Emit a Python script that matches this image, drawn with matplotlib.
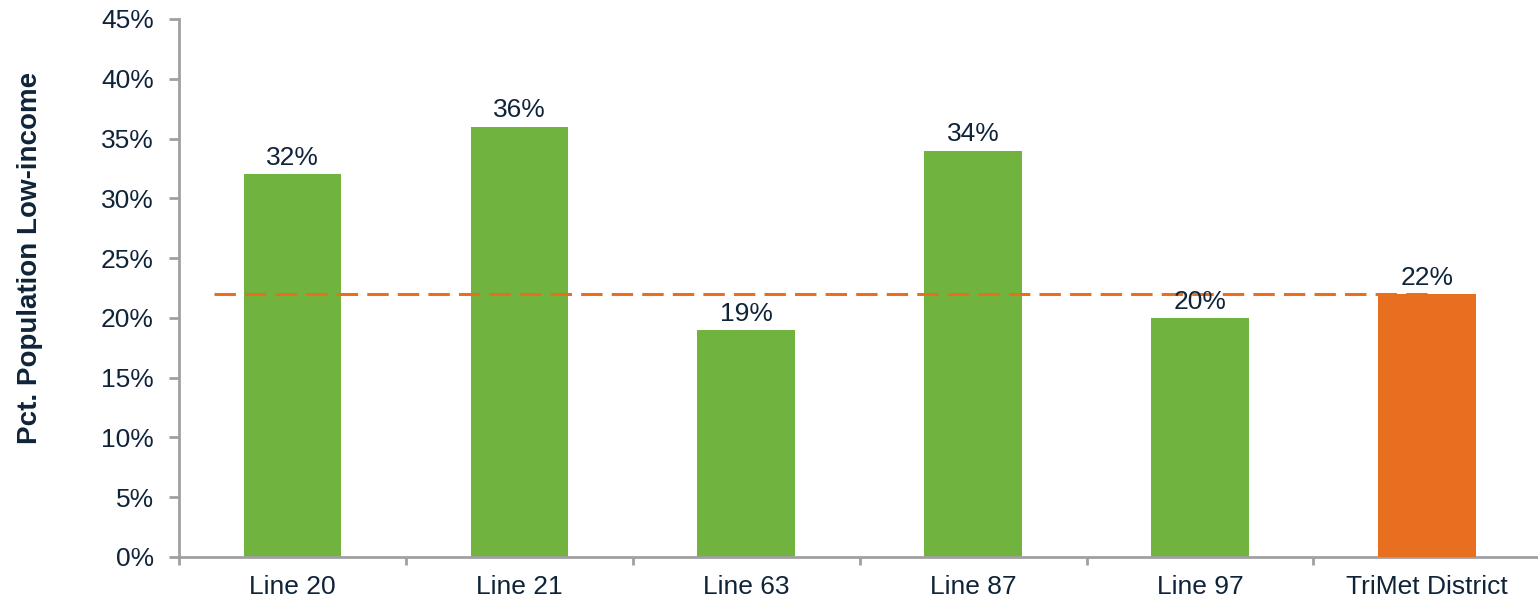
import matplotlib
matplotlib.use("Agg")
import matplotlib.pyplot as plt
import numpy as np
from matplotlib.ticker import FixedLocator, PercentFormatter

categories = ["Line 20", "Line 21", "Line 63", "Line 87", "Line 97", "TriMet District"]
values = [32, 36, 19, 34, 20, 22]
bar_colors = ["#70B33F", "#70B33F", "#70B33F", "#70B33F", "#70B33F", "#E96F20"]
district_value = 22
yticks = list(range(0, 50, 5))

text_color = "#0F2339"
spine_color = "#A0A0A4"

plt.rcParams['font.family'] = ['Liberation Sans', 'DejaVu Sans']

fig = plt.figure(figsize=(15.38, 6.04), dpi=100)
ax = fig.add_axes([179/1538, 47/604, (1538-179)/1538, 538/604])

x = np.arange(len(categories))
bars = ax.bar(x, values, width=0.43, color=bar_colors, zorder=2)
bars[-1].set_zorder(4)

ax.plot([-0.345, 5.04], [district_value, district_value], color="#E96F20",
        lw=2.2, dashes=(7, 3), zorder=3)

for xi, v in zip(x, values):
    ax.annotate(f"{v}%", (xi, v), xytext=(0, 3), textcoords="offset points",
                ha="center", va="bottom", fontsize=19, color=text_color, zorder=5)

ax.set_xlim(-0.5, 5.49)
ax.set_ylim(0, 45)
ax.set_yticks(yticks)
ax.yaxis.set_major_formatter(PercentFormatter(decimals=0))
ax.set_xticks(x)
ax.set_xticklabels(categories)
ax.xaxis.set_minor_locator(FixedLocator(np.arange(-0.5, 5.5, 1.0)))
ax.tick_params(axis="x", which="major", length=0, pad=13, labelsize=19, labelcolor=text_color)
ax.tick_params(axis="x", which="minor", length=6, width=2, color=spine_color)
ax.tick_params(axis="y", length=7, width=2, color=spine_color, labelsize=19,
               labelcolor=text_color, pad=11)

for s in ["top", "right"]:
    ax.spines[s].set_visible(False)
for s in ["left", "bottom"]:
    ax.spines[s].set_color(spine_color)
    ax.spines[s].set_linewidth(2)

fig.text(30/1538, 1 - 258/604, "Pct. Population Low-income", rotation=90,
         ha="center", va="center", fontsize=20, fontweight="bold", color=text_color)

fig.savefig("out.png", dpi=100)
